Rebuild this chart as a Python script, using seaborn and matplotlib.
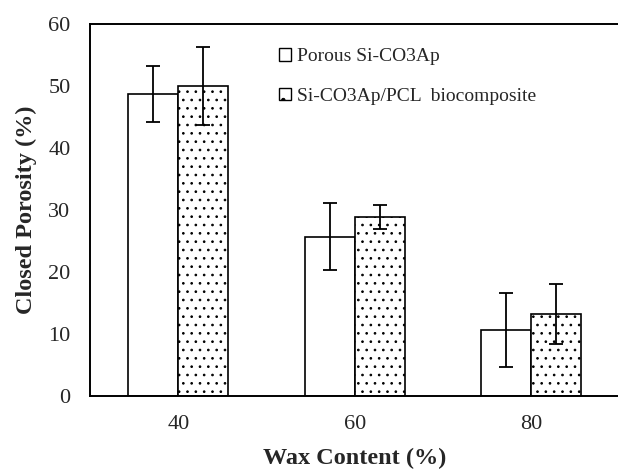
import matplotlib
matplotlib.use("Agg")
import pandas as pd
import seaborn as sns
import matplotlib.pyplot as plt
from matplotlib.patches import Patch

# --- data ---
wax = ["40", "60", "80"]
porous = [48.8, 25.7, 10.7]
porous_err = [4.5, 5.4, 6.0]
composite = [50.0, 28.9, 13.2]
composite_err = [6.3, 2.0, 4.85]
series = ["Porous Si-CO3Ap", "Si-CO3Ap/PCL  biocomposite"]

df = pd.DataFrame({
    "wax": wax * 2,
    "val": porous + composite,
    "series": [series[0]] * 3 + [series[1]] * 3,
})

sns.set_style("white")
plt.rcParams["font.family"] = ["Liberation Serif", "DejaVu Serif"]
plt.rcParams["hatch.linewidth"] = 0.7

fig = plt.figure(figsize=(6.18, 4.70), dpi=100)
ax = fig.add_axes([0.1456, 0.1574, 0.857, 0.791])

sns.barplot(data=df, x="wax", y="val", hue="series", order=wax,
            hue_order=series, palette=["white", "white"], width=0.565,
            edgecolor="black", linewidth=1.2, errorbar=None, ax=ax,
            legend=False)

# dotted fill on the second series, error bars at bar centres
for cont, errs, hatch in zip(ax.containers, [porous_err, composite_err], [None, ".."]):
    for bar, e in zip(cont, errs):
        if hatch:
            bar.set_hatch(hatch)
        x = bar.get_x() + bar.get_width() / 2
        ax.errorbar(x, bar.get_height(), yerr=e, color="black", lw=1.3,
                    capsize=5, capthick=1.3, zorder=5)

handles = [Patch(facecolor="white", edgecolor="black", lw=1.0),
           Patch(facecolor="white", edgecolor="black", lw=1.0, hatch=".")]
ax.legend(handles, series, loc="upper left", bbox_to_anchor=(0.452, 0.897),
          bbox_transform=fig.transFigure, frameon=False, fontsize=14,
          handlelength=0.6, handleheight=0.6, handletextpad=0.3,
          labelspacing=1.15, borderpad=0, borderaxespad=0)

ax.set_ylim(0, 60)
ax.set_xlim(-0.5, 2.5)
ax.set_yticks(range(0, 61, 10))
ax.tick_params(axis="y", direction="in", length=6, width=1.2, pad=14, labelsize=16)
ax.tick_params(axis="x", length=0, pad=14, labelsize=16)
for s in ax.spines.values():
    s.set_visible(True)
    s.set_color("black")
    s.set_linewidth(1.4)

ax.set_xlabel("Wax Content (%)", fontsize=17.5, fontweight="bold", labelpad=10)
ax.set_ylabel("Closed Porosity (%)", fontsize=17.5, fontweight="bold", labelpad=8)

plt.savefig("out.png", dpi=100)
